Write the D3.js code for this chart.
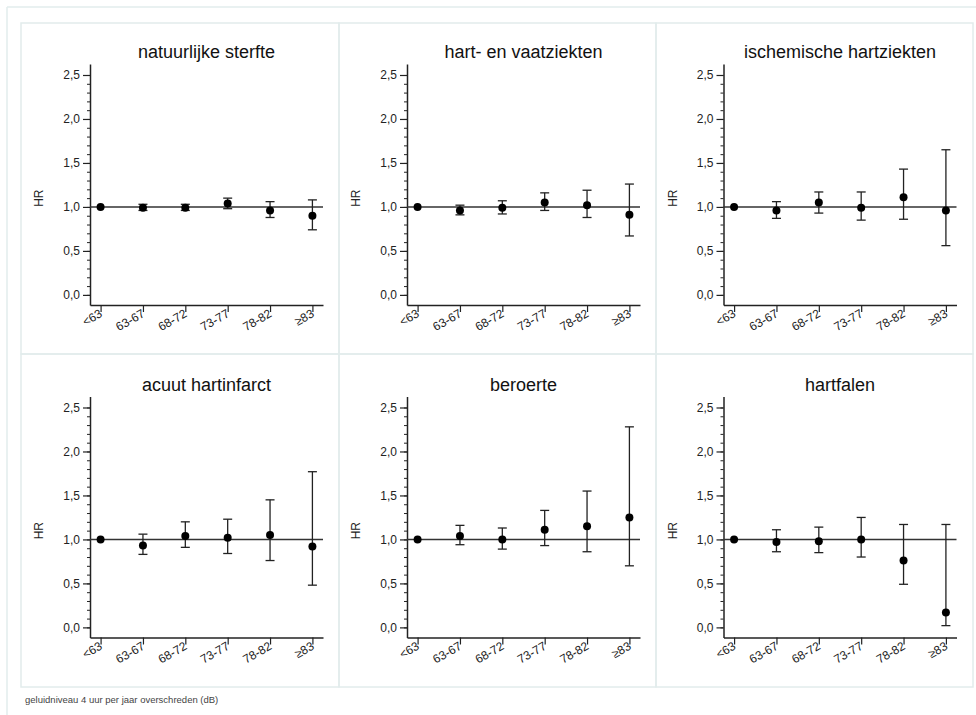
<!DOCTYPE html>
<html>
<head>
<meta charset="utf-8">
<script src="https://cdn.jsdelivr.net/npm/d3@7"></script>
<style>
  html, body { margin: 0; padding: 0; background: #fff; }
  svg { display: block; font-family: "Liberation Sans", Arial, sans-serif; }
</style>
</head>
<body>
<svg id="chart" width="976" height="715"></svg>
<script>
// ---- data ----
const categories = ["<63", "63-67", "68-72", "73-77", "78-82", "≥83"];
const titles = ["natuurlijke sterfte", "hart- en vaatziekten", "ischemische hartziekten",
                "acuut hartinfarct", "beroerte", "hartfalen"];
const yTickValues = [0, 0.5, 1.0, 1.5, 2.0, 2.5];
const yLabel = "HR";
const footnote = "geluidniveau 4 uur per jaar overschreden (dB)";

const hrNatuurlijk = [1.00, 0.99, 0.99, 1.04, 0.96, 0.90];
const loNatuurlijk = [null, 0.96, 0.96, 0.98, 0.88, 0.74];
const hiNatuurlijk = [null, 1.03, 1.03, 1.10, 1.06, 1.08];

const hrHartVaat = [1.00, 0.96, 0.99, 1.05, 1.02, 0.91];
const loHartVaat = [null, 0.91, 0.92, 0.96, 0.88, 0.67];
const hiHartVaat = [null, 1.02, 1.07, 1.16, 1.19, 1.26];

const hrIschemisch = [1.00, 0.96, 1.05, 0.99, 1.11, 0.96];
const loIschemisch = [null, 0.87, 0.93, 0.85, 0.86, 0.56];
const hiIschemisch = [null, 1.06, 1.17, 1.17, 1.43, 1.65];

const hrInfarct = [1.00, 0.93, 1.04, 1.02, 1.05, 0.92];
const loInfarct = [null, 0.83, 0.91, 0.84, 0.76, 0.48];
const hiInfarct = [null, 1.06, 1.20, 1.23, 1.45, 1.77];

const hrBeroerte = [1.00, 1.04, 1.00, 1.11, 1.15, 1.25];
const loBeroerte = [null, 0.94, 0.89, 0.93, 0.86, 0.70];
const hiBeroerte = [null, 1.16, 1.13, 1.33, 1.55, 2.28];

const hrHartfalen = [1.00, 0.97, 0.98, 1.00, 0.76, 0.17];
const loHartfalen = [null, 0.86, 0.85, 0.80, 0.49, 0.02];
const hiHartfalen = [null, 1.11, 1.14, 1.25, 1.17, 1.17];

const panels = [
  { title: titles[0], hr: hrNatuurlijk, lo: loNatuurlijk, hi: hiNatuurlijk },
  { title: titles[1], hr: hrHartVaat,   lo: loHartVaat,   hi: hiHartVaat },
  { title: titles[2], hr: hrIschemisch, lo: loIschemisch, hi: hiIschemisch },
  { title: titles[3], hr: hrInfarct,    lo: loInfarct,    hi: hiInfarct },
  { title: titles[4], hr: hrBeroerte,   lo: loBeroerte,   hi: hiBeroerte },
  { title: titles[5], hr: hrHartfalen,  lo: loHartfalen,  hi: hiHartfalen }
];

// ---- layout ----
const svg = d3.select("#chart");
const borderColor = "#e2ecec";
const ink = "#222";
const commaFmt = d3.formatLocale({ decimal: ",", thousands: ".", grouping: [3], currency: ["", ""] }).format(".1f");

// outer frame
svg.append("line").attr("x1", 7).attr("x2", 976).attr("y1", 7).attr("y2", 7)
  .attr("stroke", borderColor).attr("stroke-width", 1.5);
svg.append("line").attr("x1", 7).attr("x2", 7).attr("y1", 7).attr("y2", 715)
  .attr("stroke", borderColor).attr("stroke-width", 1.5);

const colEdges = [21, 339, 656, 973];
const rowEdges = [23, 354, 687];
for (let r = 0; r < 2; r++) {
  for (let c = 0; c < 3; c++) {
    svg.append("rect")
      .attr("x", colEdges[c]).attr("y", rowEdges[r])
      .attr("width", colEdges[c + 1] - colEdges[c])
      .attr("height", rowEdges[r + 1] - rowEdges[r])
      .attr("fill", "none").attr("stroke", borderColor).attr("stroke-width", 1.5);
  }
}

const axisBaseX = [90, 407, 723.5];
const plotW = 233;
const rowOffset = [0, 332.5];

panels.forEach((p, i) => {
  const c = i % 3, r = Math.floor(i / 3);
  const x0 = axisBaseX[c];
  const yTop = 64 + rowOffset[r], yBot = 305 + rowOffset[r];

  const x = d3.scalePoint().domain(categories).range([x0, x0 + plotW]).padding(0.25);
  const y = d3.scaleLinear().domain([-0.115, 2.625]).range([yBot, yTop]);

  const g = svg.append("g");

  // title
  g.append("text")
    .attr("x", x0 + plotW / 2).attr("y", 58 + rowOffset[r])
    .attr("text-anchor", "middle").attr("font-size", 18).attr("fill", "#111")
    .text(p.title);

  // y label
  g.append("text")
    .attr("transform", `translate(${x0 - 47},${y(1.1)}) rotate(-90)`)
    .attr("text-anchor", "middle").attr("font-size", 12).attr("fill", "#222")
    .text(yLabel);

  // minor y ticks
  g.append("g").attr("transform", `translate(${x0},0)`)
    .call(d3.axisLeft(y).tickValues(d3.range(0, 26).map(d => d / 10)).tickSize(3).tickFormat(""))
    .call(a => a.select(".domain").remove())
    .call(a => a.selectAll("line").attr("stroke", ink).attr("stroke-width", 1));

  // major y axis
  g.append("g").attr("transform", `translate(${x0},0)`)
    .call(d3.axisLeft(y).tickValues(yTickValues).tickSize(7).tickSizeOuter(0).tickPadding(3).tickFormat(commaFmt))
    .call(a => a.select(".domain").attr("stroke", ink).attr("stroke-width", 1.5))
    .call(a => a.selectAll(".tick line").attr("stroke", ink).attr("stroke-width", 1.2))
    .call(a => a.selectAll("text").attr("font-size", 12).attr("fill", "#222")
      .attr("font-family", "Liberation Sans, Arial, sans-serif"));

  // x axis
  const xAxisG = g.append("g").attr("transform", `translate(0,${yBot})`)
    .call(d3.axisBottom(x).tickSize(7).tickSizeOuter(0));
  xAxisG.select(".domain").attr("stroke", ink).attr("stroke-width", 1.5);
  xAxisG.selectAll(".tick line").attr("stroke", ink).attr("stroke-width", 1.2);
  xAxisG.selectAll(".tick text")
    .attr("font-size", 12).attr("fill", "#222")
    .attr("font-family", "Liberation Sans, Arial, sans-serif")
    .attr("text-anchor", "end")
    .attr("y", 0).attr("dy", 0)
    .attr("transform", "translate(2,11) rotate(-30)");

  // reference line at HR = 1
  g.append("line")
    .attr("x1", x0).attr("x2", x0 + plotW)
    .attr("y1", y(1)).attr("y2", y(1))
    .attr("stroke", "#333").attr("stroke-width", 1.5);

  // error bars
  const idx = d3.range(categories.length).filter(k => p.lo[k] !== null);
  const eb = g.append("g").attr("stroke", ink).attr("stroke-width", 1.3);
  eb.selectAll(".v").data(idx).join("line")
    .attr("x1", k => x(categories[k])).attr("x2", k => x(categories[k]))
    .attr("y1", k => y(p.lo[k])).attr("y2", k => y(p.hi[k]));
  eb.selectAll(".ct").data(idx).join("line")
    .attr("x1", k => x(categories[k]) - 4.5).attr("x2", k => x(categories[k]) + 4.5)
    .attr("y1", k => y(p.hi[k])).attr("y2", k => y(p.hi[k]));
  eb.selectAll(".cb").data(idx).join("line")
    .attr("x1", k => x(categories[k]) - 4.5).attr("x2", k => x(categories[k]) + 4.5)
    .attr("y1", k => y(p.lo[k])).attr("y2", k => y(p.lo[k]));

  // points
  g.selectAll(".pt").data(p.hr).join("circle")
    .attr("cx", (d, k) => x(categories[k]))
    .attr("cy", d => y(d))
    .attr("r", 4).attr("fill", "#000");
});

// footnote
svg.append("text")
  .attr("x", 25).attr("y", 703)
  .attr("font-size", 9.5).attr("fill", "#444")
  .text(footnote);
</script>
</body>
</html>
